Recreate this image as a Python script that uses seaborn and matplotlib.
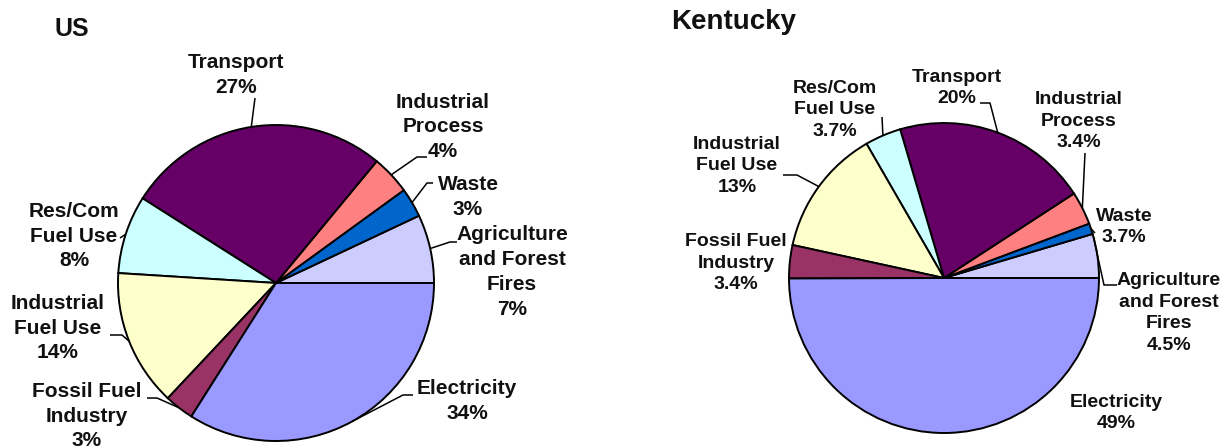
import numpy as np
import matplotlib
matplotlib.use("Agg")
import matplotlib.pyplot as plt
import seaborn as sns

sns.set_theme(style="white")
plt.rcParams['font.family'] = ['Liberation Sans', 'DejaVu Sans']

# ---------------- data ----------------
sectors = ["Agriculture and Forest Fires", "Waste", "Industrial Process", "Transport",
           "Res/Com Fuel Use", "Industrial Fuel Use", "Fossil Fuel Industry", "Electricity"]
us_values = [7, 3, 4, 27, 8, 14, 3, 34]
ky_values = [4.5, 1.1, 3.4, 20, 3.7, 13, 3.4, 49]   # waste slice drawn ~1% (label says 3.7%)

us_labels = ["Agriculture\nand Forest\nFires\n7%", "Waste\n3%", "Industrial\nProcess\n4%",
             "Transport\n27%", "Res/Com\nFuel Use\n8%", "Industrial\nFuel Use\n14%",
             "Fossil Fuel\nIndustry\n3%", "Electricity\n34%"]
ky_labels = ["Agriculture\nand Forest\nFires\n4.5%", "Waste\n3.7%", "Industrial\nProcess\n3.4%",
             "Transport\n20%", "Res/Com\nFuel Use\n3.7%", "Industrial\nFuel Use\n13%",
             "Fossil Fuel\nIndustry\n3.4%", "Electricity\n49%"]

colors = ["#CCCCFF", "#0066CC", "#FF8080", "#660066", "#CCFFFF", "#FFFFCC", "#993366", "#9999FF"]

# ---------------- layout (pixel coordinates, y down) ----------------
W, H = 1222, 448
fig = plt.figure(figsize=(W / 100, H / 100), dpi=100)
ax = fig.add_axes([0, 0, 1, 1])

us_center, us_r = (276, 283), 158
ky_center, ky_r = (944, 278), 155

def draw_pie(values, center, r):
    wedges, _ = ax.pie(values, colors=colors, startangle=0, counterclock=False,
                       center=center, radius=r, frame=True,
                       wedgeprops=dict(edgecolor="black", linewidth=1.4))
    return wedges

us_w = draw_pie(us_values, us_center, us_r)
ky_w = draw_pie(ky_values, ky_center, ky_r)

ax.set_xlim(0, W)
ax.set_ylim(H, 0)
ax.set_aspect("equal")
ax.axis("off")

def edge_point(wedge, frac=0.5):
    # angles are in data coords (y down), so visually mirrored
    a = np.deg2rad(wedge.theta1 + frac * (wedge.theta2 - wedge.theta1))
    cx, cy = wedge.center
    return cx + wedge.r * np.cos(a), cy + wedge.r * np.sin(a)

# label block centers and leader-line start points (text side)
us_pos = [(512, 272), (468, 197), (443, 127), (236, 75), (74, 236), (58, 328), (87, 416), (467, 401)]
us_lead = [[(457, 242), (450, 242)], [(433, 183), (427, 183)], [(427, 157), (417, 157)],
           [(255, 98)], [(120, 238)], [(110, 335), (122, 335)], [(147, 398), (157, 398)],
           [(413, 395), (403, 395)]]
ky_pos = [(1169, 313), (1124, 227), (1079, 121), (957, 88), (835, 110), (737, 166), (736, 263), (1116, 413)]
ky_lead = [[(1117, 285), (1104, 285)], [(1095, 233)], [(1085, 153)], [(980, 103), (990, 103)],
           [(882, 117)], [(783, 175), (797, 175)], None, None]
ky_frac = [0.05, 0.5, 0.5, 0.5, 0.5, 0.5, 0.5, 0.5]

for lab, pos in zip(us_labels, us_pos):
    ax.text(pos[0], pos[1], lab, ha="center", va="center", multialignment="center",
            fontsize=15, fontweight="bold", linespacing=1.38, color="#111111")
for lab, pos in zip(ky_labels, ky_pos):
    ax.text(pos[0], pos[1], lab, ha="center", va="center", multialignment="center",
            fontsize=14, fontweight="bold", linespacing=1.34, color="#111111")

def leaders(wedges, leads, fracs=None):
    for i, (w, pts) in enumerate(zip(wedges, leads)):
        if pts is None:
            continue
        f = 0.5 if fracs is None else fracs[i]
        ex, ey = edge_point(w, f)
        xs = [p[0] for p in pts] + [ex]
        ys = [p[1] for p in pts] + [ey]
        ax.plot(xs, ys, color="black", linewidth=1.1, solid_capstyle="butt")

leaders(us_w, us_lead)
leaders(ky_w, ky_lead, ky_frac)

ax.text(55, 29, "US", ha="left", va="center", fontsize=18, fontweight="bold", color="#111111")
ax.text(671, 22, "Kentucky", ha="left", va="center", fontsize=20, fontweight="bold", color="#111111")

fig.savefig("out.png", dpi=100, facecolor="white")
